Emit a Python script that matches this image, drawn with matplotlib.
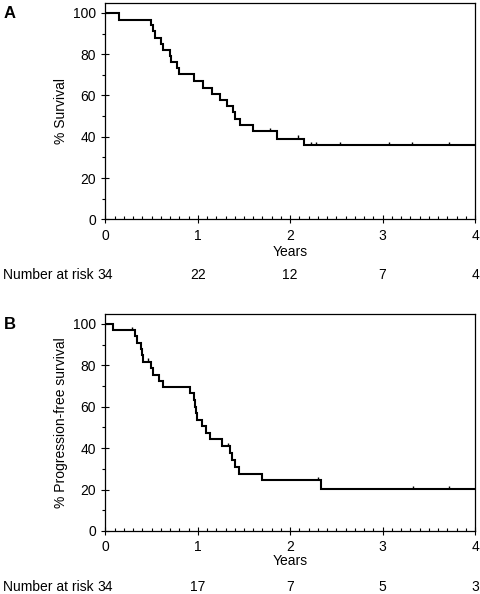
import matplotlib
matplotlib.use("Agg")
import matplotlib.pyplot as plt
from matplotlib.ticker import MultipleLocator
import numpy as np

plt.rcParams['font.family'] = ['Liberation Sans', 'DejaVu Sans']

# panel A - overall survival (step times in years, % after each step)
os_times = [0.15, 0.49, 0.51, 0.54, 0.60, 0.62, 0.70, 0.71, 0.78, 0.80,
            0.955, 1.06, 1.15, 1.24, 1.32, 1.38, 1.40, 1.46, 1.60, 1.86, 2.15]
os_surv = [96.8, 93.9, 91.0, 88.0, 85.1, 82.1, 79.2, 76.2, 73.2, 70.2,
           67.0, 63.8, 60.9, 57.6, 54.7, 52.0, 48.8, 45.5, 42.8, 39.1, 35.9]
os_censor = [1.78, 2.08, 2.23, 2.28, 2.54, 3.07, 3.32, 3.72]

# panel B - progression-free survival
pfs_times = [0.085, 0.32, 0.345, 0.38, 0.40, 0.41, 0.49, 0.52, 0.575, 0.62,
             0.915, 0.96, 0.97, 0.98, 0.99, 1.05, 1.09, 1.13, 1.26, 1.35,
             1.37, 1.40, 1.45, 1.70, 2.33]
pfs_surv = [97.1, 94.1, 91.0, 87.8, 84.8, 81.8, 78.6, 75.4, 72.5, 69.4,
            66.5, 63.3, 60.1, 56.9, 53.6, 50.7, 47.5, 44.3, 41.1, 37.5,
            34.3, 30.8, 27.5, 24.4, 20.3]
pfs_censor = [0.285, 0.465, 1.33, 2.30, 3.33, 3.72]

risk_years = [0, 1, 2, 3, 4]
os_risk = [34, 22, 12, 7, 4]
pfs_risk = [34, 17, 7, 5, 3]

W, H = 480, 594
FS = 10
fig = plt.figure(figsize=(W / 100, H / 100), dpi=100)

def km_panel(rect, times, surv, censor, risk, ylabel, letter, years_off):
    ax = fig.add_axes(rect)
    xs = np.concatenate([[0], times, [4]])
    ys = np.concatenate([[100], surv, [surv[-1]]])
    ax.step(xs, ys, where='post', color='black', lw=1.5, solid_joinstyle='miter')
    # censor marks sit on top of the curve
    cx = np.array(censor)
    idx = np.searchsorted(xs, cx, side='right') - 1
    cy = ys[idx]
    ax.vlines(cx, cy, cy + 1.6, color='black', lw=1.0)

    ax.set_xlim(0, 4)
    ax.set_ylim(0, 104.8)
    ax.xaxis.set_major_locator(MultipleLocator(1))
    ax.xaxis.set_minor_locator(MultipleLocator(0.1))
    ax.yaxis.set_major_locator(MultipleLocator(20))
    ax.yaxis.set_minor_locator(MultipleLocator(10))
    ax.tick_params(which='major', direction='inout', length=5.5, width=0.8,
                   labelsize=FS, pad=4)
    ax.tick_params(axis='x', which='minor', direction='in', length=2.5, width=0.8)
    ax.tick_params(axis='y', which='minor', direction='out', length=2.5, width=0.8)
    for s in ax.spines.values():
        s.set_linewidth(0.9)

    ax.set_ylabel(ylabel, fontsize=FS, labelpad=3.5)
    ax.annotate('Years', xy=(2, 0), xycoords=('data', 'axes fraction'),
                xytext=(0, years_off), textcoords='offset points',
                ha='center', va='center', fontsize=FS)
    for yr, n in zip(risk_years, risk):
        ax.annotate(str(n), xy=(yr, 0), xycoords=('data', 'axes fraction'),
                    xytext=(0, -40.2), textcoords='offset points',
                    ha='center', va='center', fontsize=FS)
    ax.annotate('Number at risk', xy=(0, 0), xycoords=('data', 'axes fraction'),
                xytext=(-8.2, -40.2), textcoords='offset points',
                ha='right', va='center', fontsize=FS)
    top_px = H - (rect[1] + rect[3]) * H
    fig.text(3.5 / W, 1 - (top_px + 10.5) / H, letter, fontsize=12,
             fontweight='bold', ha='left', va='center')
    return ax

km_panel([105.4 / W, 374.7 / H, 369.6 / W, 216.3 / H],
         os_times, os_surv, os_censor, os_risk, '% Survival', 'A', -23.3)
km_panel([105.4 / W, 63.0 / H, 369.6 / W, 217.0 / H],
         pfs_times, pfs_surv, pfs_censor, pfs_risk,
         '% Progression-free survival', 'B', -21.8)

fig.savefig('out.png', dpi=100)
